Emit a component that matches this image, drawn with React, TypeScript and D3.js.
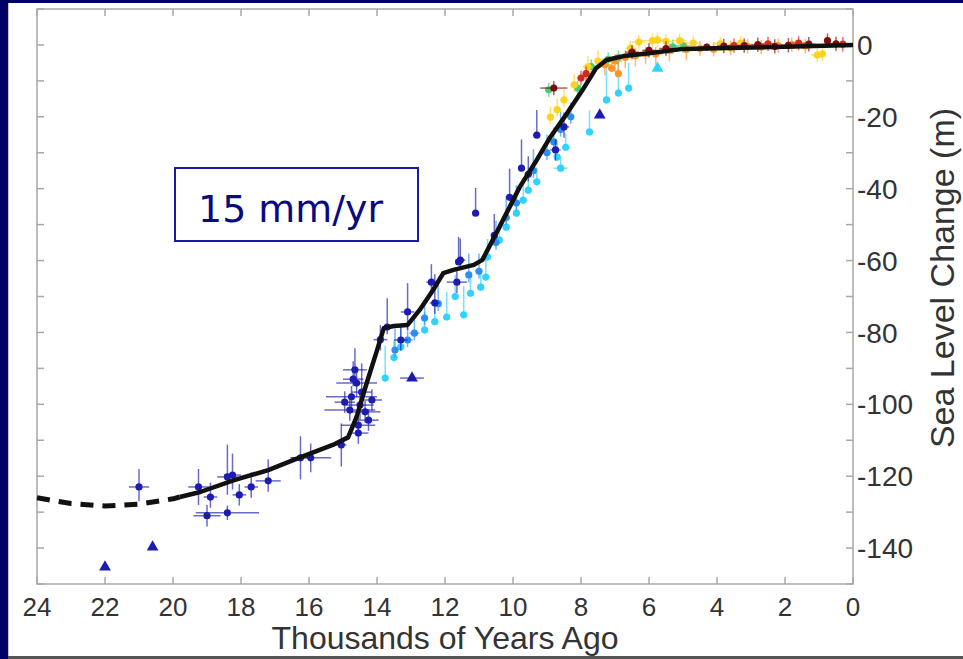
import React from "react";
import * as d3 from "d3";

// sea level reconstruction
// each point: [age (kyr BP), level (m), age error, error up, error down]
type Pt = [number, number, number, number, number];

const xTicks = [24, 22, 20, 18, 16, 14, 12, 10, 8, 6, 4, 2, 0];
const yTicks = [0, -20, -40, -60, -80, -100, -120, -140];
const yMinor = [10, 0, -10, -20, -30, -40, -50, -60, -70, -80, -90, -100, -110, -120, -130, -140, -150];

const curveDashed: [number, number][] = [
  [24, -126], [23, -127.6], [22, -128.3], [21, -127.8], [20, -126.3], [19.8, -125.8],
];
const curveSolid: [number, number][] = [
  [19.8, -125.8], [19.2, -124.4], [18.2, -121.1], [17.2, -118.3], [16.3, -114.9], [15.3, -111.3],
  [14.85, -109.2], [14.6, -103.5], [14.3, -94], [14.0, -85], [13.8, -78.8], [13.5, -78.2],
  [13.1, -77.9], [12.75, -73.8], [12.35, -68.2], [12.05, -63.5], [11.75, -62.6], [11.15, -61.2],
  [10.9, -59.8], [10.4, -50.7], [9.8, -39.5], [9.3, -32], [8.9, -25.6], [8.4, -18.9],
  [7.95, -12.5], [7.55, -6.4], [7.25, -4.2], [6.75, -3.1], [6.0, -2.3], [5.0, -1.1],
  [4.0, -0.9], [2.0, -0.5], [0, 0],
];

const darkBlue: Pt[] = [
  [21.0, -123, 0.3, 5, 4], [19.25, -123.0, 0.3, 5, 5], [18.9, -125.8, 0.2, 4, 3],
  [19.0, -131, 0.4, 3, 3], [18.4, -130.2, 0.93, 2, 2], [18.4, -120.2, 0.3, 9, 5],
  [18.25, -119.7, 0.25, 6, 4], [18.05, -125.2, 0.2, 3, 3], [17.7, -123.0, 0.2, 4, 3],
  [17.2, -121.3, 0.37, 6, 3], [16.25, -114.9, 0.25, 6, 6], [15.95, -114.9, 0.6, 4, 4],
  [15.05, -111.3, 0.15, 6, 6],
  [14.65, -90.4, 0.35, 6, 3], [14.6, -94.1, 0.6, 4, 4], [14.75, -97.9, 0.75, 3, 3],
  [14.5, -100.2, 0.4, 4, 4], [14.8, -101.6, 0.75, 3, 3], [14.35, -102.1, 0.45, 3, 3],
  [14.25, -104.4, 0.3, 3, 3], [14.55, -105.8, 0.5, 4, 3], [14.95, -99.4, 0.3, 3, 3],
  [14.15, -98.8, 0.3, 3, 3], [14.45, -96.6, 0.3, 8, 3], [14.7, -93, 0.3, 5, 2],
  [14.55, -108, 0.3, 3, 3], [13.9, -82, 0.2, 4, 3],
  [13.7, -78.5, 0.15, 8, 2], [13.3, -82.1, 0.2, 4, 3], [13.1, -74.3, 0.2, 8, 5],
  [12.3, -71.8, 0.15, 8, 3], [12.4, -66, 0.15, 5, 3], [11.65, -66.0, 0.3, 3, 3],
  [11.55, -59.9, 0.15, 6, 2], [11.1, -46.8, 0.1, 7, 0], [11.6, -60.4, 0.1, 7, 0],
  [10.1, -42.4, 0.1, 8, 0], [9.75, -34.3, 0.1, 8, 0], [9.3, -25.1, 0.1, 7, 0],
  [8.75, -29.2, 0.15, 3, 3], [8.5, -22.8, 0.15, 4, 3], [9.55, -36, 0.1, 5, 2],
  [10.55, -53, 0.1, 6, 2],
];
const darkBlueTri: [number, number, number][] = [
  [22.0, -145.3, 0], [20.6, -139.7, 0], [12.97, -92.7, 0.35], [7.45, -19.5, 0],
];

const lightBlue: Pt[] = [
  [13.47, -84.9, 0.1, 6, 2], [13.1, -82.1, 0.15, 4, 2], [12.9, -80.2, 0.15, 4, 2],
  [12.6, -76, 0.1, 5, 2], [12.2, -72, 0.1, 6, 2], [11.3, -64, 0.1, 6, 2],
  [11.0, -63, 0.1, 5, 2], [10.5, -55, 0.1, 6, 2], [10.2, -48, 0.1, 6, 2],
  [9.9, -44, 0.1, 5, 2], [9.4, -35, 0.1, 6, 2], [9.0, -30, 0.1, 5, 2],
  [8.8, -27, 0.1, 4, 2], [8.6, -23.5, 0.1, 5, 2], [8.3, -20, 0.1, 4, 2],
];

const cyan: Pt[] = [
  [13.76, -92.7, 0.1, 9, 1], [13.5, -87, 0.1, 5, 1], [13.3, -84, 0.1, 6, 1],
  [12.6, -79.3, 0.1, 5, 1], [11.95, -75.7, 0.1, 7, 1], [11.45, -75.1, 0.1, 8, 1],
  [11.25, -69.1, 0.1, 6, 1], [10.95, -67.4, 0.1, 5, 1], [10.8, -64.6, 0.1, 5, 1],
  [10.75, -59.0, 0.1, 5, 1], [10.4, -54.3, 0.1, 5, 1], [10.2, -50.7, 0.1, 5, 1],
  [9.9, -46.8, 0.1, 5, 1], [9.7, -43.2, 0.1, 5, 1], [9.55, -40.4, 0.1, 5, 1],
  [9.3, -38.1, 0.1, 4, 1], [8.6, -34.3, 0.2, 3, 1], [8.7, -31.2, 0.1, 4, 1],
  [8.45, -28.5, 0.1, 4, 1], [7.75, -24.2, 0.1, 6, 1], [7.25, -15.3, 0.1, 9, 1],
  [6.9, -13.4, 0.1, 9, 1], [6.6, -12.0, 0.1, 7, 1], [12.3, -77, 0.1, 5, 1],
  [11.7, -70, 0.1, 6, 1],
];
const cyanTri: [number, number, number][] = [[5.75, -6.5, 0]];

const green: Pt[] = [
  [8.95, -12.5, 0.1, 2, 2], [8.1, -12, 0.1, 2, 2], [7.7, -6, 0.15, 2, 2], [7.2, -4, 0.2, 2, 2],
  [6.9, -3.5, 0.2, 2, 2], [5.3, -0.5, 0.2, 2, 2], [5.0, -0.2, 0.2, 2, 2],
];

const yellow: Pt[] = [
  [8.9, -20.1, 0.1, 3, 2], [8.7, -18, 0.1, 3, 2], [8.5, -15.3, 0.1, 3, 2], [8.2, -11.1, 0.1, 3, 2],
  [7.8, -6.1, 0.15, 3, 2], [7.5, -4.5, 0.1, 3, 2], [6.55, -0.9, 0.15, 2, 2], [6.3, 0.8, 0.2, 2, 2],
  [5.9, 1.2, 0.3, 2, 2], [5.75, 1.4, 0.2, 2, 2], [5.5, 1.0, 0.2, 2, 2], [5.1, 1.2, 0.2, 2, 2],
  [4.7, 0.5, 0.2, 2, 2], [3.9, 0.3, 0.2, 2, 2], [3.3, 0.5, 0.2, 2, 2], [1.05, -2.8, 0.2, 2, 2],
  [0.9, -2.5, 0.1, 2, 2],
];

const orange: Pt[] = [
  [7.3, -5.5, 0.2, 2, 3], [7.1, -6.5, 0.1, 3, 1], [7.0, -4.5, 0.2, 2, 3], [6.9, -8, 0.1, 3, 1],
  [6.7, -3.5, 0.2, 2, 3], [6.4, -3.0, 0.2, 2, 3], [6.1, -2.4, 0.2, 2, 3], [5.8, -2.5, 0.2, 2, 3],
  [5.4, -1.6, 0.2, 2, 3], [4.9, -1.3, 0.2, 2, 3], [4.5, -1.0, 0.2, 2, 2], [4.1, -1.2, 0.2, 2, 2],
  [3.6, -0.8, 0.2, 2, 2], [3.1, -0.4, 0.2, 2, 2], [2.7, -0.6, 0.2, 2, 2], [2.2, -0.2, 0.2, 2, 2],
  [1.8, 0.1, 0.2, 2, 2], [1.4, -0.3, 0.2, 2, 2],
];

const red: Pt[] = [
  [8.0, -9.2, 0.1, 2, 2], [7.85, -8, 0.1, 2, 2], [3.5, -0.2, 0.2, 2, 2], [2.5, 0.3, 0.2, 2, 2],
  [1.6, 0.5, 0.2, 2, 2], [0.3, 0.2, 0.2, 2, 2],
];

const darkRed: Pt[] = [
  [8.8, -12, 0.4, 2, 2], [6.5, -2, 0.2, 2, 2], [6.0, -1.5, 0.2, 2, 2], [5.5, -1.0, 0.2, 2, 2],
  [4.3, -0.6, 0.2, 1, 1], [3.8, -0.3, 0.2, 2, 2], [3.2, -0.2, 0.2, 2, 2], [2.8, 0.1, 0.2, 2, 2],
  [2.3, -0.4, 0.2, 2, 2], [1.9, -0.1, 0.2, 2, 2], [1.3, 0.2, 0.2, 2, 2], [0.75, 1.2, 0.1, 2, 2],
  [0.5, 0.3, 0.2, 2, 2],
];

const groups: { pts: Pt[]; color: string }[] = [
  { pts: cyan, color: "#2ed3ff" },
  { pts: lightBlue, color: "#2a8ff0" },
  { pts: darkBlue, color: "#1c1cb0" },
  { pts: green, color: "#3fcf7a" },
  { pts: yellow, color: "#ffd21f" },
  { pts: orange, color: "#ff9520" },
  { pts: red, color: "#d42a1a" },
  { pts: darkRed, color: "#7e0c0c" },
];

const W = 963;
const H = 659;

const x = d3.scaleLinear().domain([24, 0]).range([37, 853]);
const y = d3.scaleLinear().domain([-150, 10]).range([584, 9]);

const line = d3
  .line<[number, number]>()
  .x((d) => x(d[0]))
  .y((d) => y(d[1]));

const tri = d3.symbol().type(d3.symbolTriangle).size(60);

const App = () => {
  const axisColor = "#a8a8a8";
  const labelColor = "#333";
  const font = "'Liberation Sans', Arial, sans-serif";

  const drawPoint = (p: Pt, color: string, i: number) => {
    const [age, lvl, dA, up, dn] = p;
    return (
      <g key={i}>
        <line x1={x(age + dA)} x2={x(age - dA)} y1={y(lvl)} y2={y(lvl)} stroke={color} strokeWidth={1.5} opacity={0.65} />
        <line x1={x(age)} x2={x(age)} y1={y(lvl + up)} y2={y(lvl - dn)} stroke={color} strokeWidth={1.5} opacity={0.65} />
        <circle cx={x(age)} cy={y(lvl)} r={3.6} fill={color} />
      </g>
    );
  };

  const drawTri = (p: [number, number, number], color: string, i: number) => (
    <g key={"t" + i}>
      {p[2] > 0 && (
        <line x1={x(p[0] + p[2])} x2={x(p[0] - p[2])} y1={y(p[1])} y2={y(p[1])} stroke={color} strokeWidth={1.5} opacity={0.65} />
      )}
      <path d={tri() || ""} transform={`translate(${x(p[0])},${y(p[1])})`} fill={color} />
    </g>
  );

  return (
    <svg width={W} height={H} style={{ position: "absolute", left: 0, top: 0 }}>
      <rect x={0} y={0} width={W} height={H} fill="#000066" />
      <rect x={8} y={3} width={W - 8} height={653} fill="#ffffff" />
      <line x1={7.5} x2={7.5} y1={3} y2={656} stroke="#111" strokeWidth={1.5} />
      <rect x={8} y={656} width={W - 8} height={3} fill="#555" />

      {/* plot frame */}
      <rect x={x(24)} y={y(10)} width={x(0) - x(24)} height={y(-150) - y(10)} fill="none" stroke={axisColor} strokeWidth={1.5} />
      {xTicks.map((t) => (
        <g key={"xt" + t}>
          <line x1={x(t)} x2={x(t)} y1={y(-150)} y2={y(-150) - 7} stroke={axisColor} strokeWidth={1.5} />
          <line x1={x(t)} x2={x(t)} y1={y(10)} y2={y(10) + 7} stroke={axisColor} strokeWidth={1.5} />
          <text x={x(t)} y={616} textAnchor="middle" fontFamily={font} fontSize={26} fill={labelColor}>
            {t}
          </text>
        </g>
      ))}
      {yMinor.map((t) => (
        <g key={"ym" + t}>
          <line x1={x(24)} x2={x(24) + 7} y1={y(t)} y2={y(t)} stroke={axisColor} strokeWidth={1.5} />
          <line x1={x(0)} x2={x(0) - 7} y1={y(t)} y2={y(t)} stroke={axisColor} strokeWidth={1.5} />
        </g>
      ))}
      {yTicks.map((t) => (
        <text key={"yl" + t} x={857} y={y(t)} dy="0.36em" fontFamily={font} fontSize={28} fill={labelColor}>
          {t === 0 ? "0" : `-${Math.abs(t)}`}
        </text>
      ))}

      <text x={(x(24) + x(0)) / 2} y={649} textAnchor="middle" fontFamily={font} fontSize={32} fill={labelColor}>
        Thousands of Years Ago
      </text>
      <text transform="translate(954,278) rotate(-90)" textAnchor="middle" fontFamily={font} fontSize={34} fill={labelColor}>
        Sea Level Change (m)
      </text>

      {/* data */}
      {groups.map((g, gi) => (
        <g key={"g" + gi}>{g.pts.map((p, i) => drawPoint(p, g.color, i))}</g>
      ))}
      {cyanTri.map((p, i) => drawTri(p, "#2ed3ff", i))}
      {darkBlueTri.map((p, i) => drawTri(p, "#1c1cb0", i))}

      <path d={line(curveDashed) || ""} fill="none" stroke="#111" strokeWidth={5} strokeDasharray="13 9" />
      <path d={line(curveSolid) || ""} fill="none" stroke="#111" strokeWidth={4.5} strokeLinejoin="round" />

      {/* annotation */}
      <rect x={175} y={168} width={243} height={73} fill="#fff" stroke="#1a1aa6" strokeWidth={2} />
      <text x={198} y={222} fontFamily="'DejaVu Sans', sans-serif" fontSize={37} fill="#0a0a80" textLength={185} lengthAdjust="spacingAndGlyphs">
        15 mm/yr
      </text>
    </svg>
  );
};

export default App;
